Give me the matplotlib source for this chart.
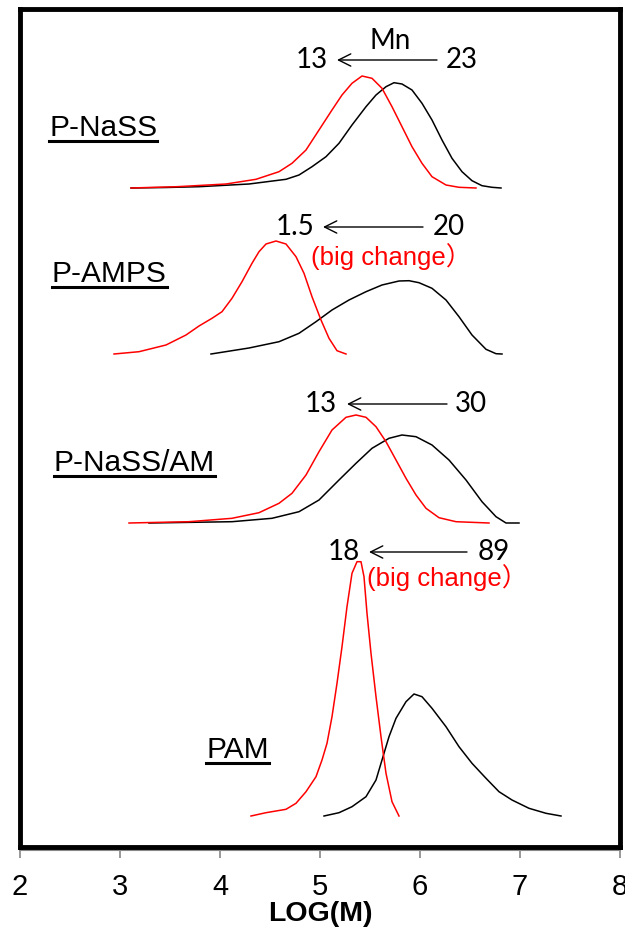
import matplotlib
matplotlib.use("Agg")
import matplotlib.pyplot as plt
from matplotlib.lines import Line2D

# ---------------- data ----------------
# x = log(M); y = curve height above its own baseline (arbitrary units)
nass_black_x = [3.11, 3.46, 3.79, 4.29, 4.66, 4.79, 4.92, 5.06, 5.19, 5.32, 5.46, 5.56, 5.66, 5.74,
                5.82, 5.92, 6.02, 6.12, 6.22, 6.32, 6.42, 6.52, 6.62, 6.72, 6.81]
nass_black_y = [0, 0.5, 1.3, 4, 8.7, 13, 21.3, 31.3, 44.7, 63, 81.3, 93, 101.3, 105.3,
                104, 98, 84.7, 68, 48, 29.7, 16.3, 7.3, 2.3, 0.7, 0]
nass_red_x = [3.11, 3.57, 4.06, 4.36, 4.59, 4.72, 4.86, 4.99, 5.12, 5.22, 5.32, 5.42, 5.52, 5.62,
              5.72, 5.82, 5.92, 6.02, 6.12, 6.26, 6.39, 6.56]
nass_red_y = [0, 1.3, 4, 8.7, 16.3, 24.7, 38, 58, 78, 93, 104.7, 112, 109.7, 99.7,
              81.3, 61.3, 41.3, 24.7, 11.3, 3, 0.7, 0]

amps_black_x = [3.91, 4.29, 4.59, 4.79, 4.96, 5.12, 5.29, 5.46, 5.62, 5.79, 5.89, 5.99, 6.12,
                6.26, 6.39, 6.52, 6.66, 6.76, 6.82]
amps_black_y = [0, 6, 12.3, 20.7, 32.3, 44, 54, 62.3, 69, 73, 73.3, 71.3, 65.7,
                54, 37.3, 19, 4.7, 0.3, 0]
amps_red_x = [2.94, 3.19, 3.46, 3.66, 3.79, 3.92, 4.02, 4.12, 4.22, 4.32, 4.39, 4.46, 4.56, 4.66,
              4.76, 4.84, 4.92, 5.01, 5.09, 5.17, 5.26]
amps_red_y = [0, 2.3, 9, 19, 28, 35.7, 42.3, 55.7, 72.3, 90.7, 102.3, 110, 113, 110,
              97.3, 80.7, 57.3, 34, 15.7, 3.3, 0]

nassam_black_x = [3.29, 4.12, 4.52, 4.79, 4.99, 5.19, 5.36, 5.52, 5.69, 5.82, 5.96, 6.12, 6.29,
                  6.46, 6.62, 6.76, 6.86, 6.99]
nassam_black_y = [0, 1.3, 4.7, 11.3, 23, 43, 59.7, 74.7, 84.7, 88, 86.3, 78, 63,
                  43, 21.3, 6.3, 0, 0]
nassam_red_x = [3.09, 3.69, 4.12, 4.39, 4.59, 4.72, 4.86, 4.99, 5.12, 5.26, 5.36, 5.46, 5.56,
                5.66, 5.76, 5.86, 5.96, 6.06, 6.19, 6.36, 6.69]
nassam_red_y = [0, 1.3, 4.7, 10.3, 19.7, 29.7, 48, 71.3, 93, 105.7, 108, 105.7, 96.3,
                81.3, 63, 44.7, 28, 14.7, 5.3, 1.3, 0]

pam_black_x = [5.04, 5.19, 5.32, 5.46, 5.56, 5.62, 5.69, 5.76, 5.86, 5.94, 6.02, 6.12, 6.26,
               6.39, 6.52, 6.66, 6.79, 6.92, 7.09, 7.26, 7.41]
pam_black_y = [0, 3.3, 9.3, 19.3, 36, 56, 79.3, 97.7, 114.3, 122, 119.3, 107.7, 89.3,
               69.3, 52.7, 37.7, 24.3, 16, 7.7, 2.7, 0]
pam_red_x = [4.31, 4.46, 4.66, 4.76, 4.86, 4.96, 5.02, 5.07, 5.12, 5.17, 5.22, 5.27, 5.32, 5.37,
             5.41, 5.44, 5.47, 5.51, 5.56, 5.61, 5.66, 5.72, 5.79]
pam_red_y = [0, 3.3, 6.7, 12.7, 24.3, 39.3, 56, 72.7, 99.3, 132.7, 169.3, 209.3, 242.7, 254.3,
             254.3, 239.3, 202.7, 162.7, 119.3, 79.3, 42.7, 14.3, 0]

samples = ["P-NaSS", "P-AMPS", "P-NaSS/AM", "PAM"]
baselines = [659, 493, 324, 31]
mn_before = ["23", "20", "30", "89"]
mn_after = ["13", "1.5", "13", "18"]
xticks = [2, 3, 4, 5, 6, 7, 8]

black_x = [nass_black_x, amps_black_x, nassam_black_x, pam_black_x]
black_y = [nass_black_y, amps_black_y, nassam_black_y, pam_black_y]
red_x = [nass_red_x, amps_red_x, nassam_red_x, pam_red_x]
red_y = [nass_red_y, amps_red_y, nassam_red_y, pam_red_y]

# ---------------- layout ----------------
W, H = 625, 936
fig = plt.figure(figsize=(W / 100, H / 100), dpi=100)
ax = fig.add_axes([20 / W, 1 - 847 / H, 600 / W, 838 / H])
ax.set_xlim(2, 8)
ax.set_ylim(0, 838)


def py(p):  # pixel row -> data y
    return 847 - p


def lx(p):  # pixel column -> data x
    return 2 + (p - 21) / 100.0


for i in range(4):
    b = baselines[i]
    ax.plot(black_x[i], [b + v for v in black_y[i]], color="black", lw=1.1,
            solid_joinstyle="round", zorder=2)
    ax.plot(red_x[i], [b + v for v in red_y[i]], color="red", lw=1.1,
            solid_joinstyle="round", zorder=3)

num_font = dict(family=["Lato", "DejaVu Sans"], fontsize=20, color="black")
lab_font = dict(family=["Liberation Sans", "DejaVu Sans"], fontsize=21.5, color="black")
red_font = dict(family=["Liberation Sans", "Noto Sans CJK SC"], fontsize=18.5, color="red")

ann = [
    # (y_arrow_px, tip_px, tail_px, after_px, before_px)
    (60, 338, 438, 313, 463),
    (227, 324, 424, 296, 450),
    (404, 348, 448, 322, 472),
    (552, 370, 468, 345, 495),
]

for i, (ya, tip, tail, pa, pb) in enumerate(ann):
    y = py(ya)
    ax.annotate("", xy=(lx(tip), y), xytext=(lx(tail), y),
                arrowprops=dict(arrowstyle="->", lw=1.0, color="black",
                                mutation_scale=22, shrinkA=0, shrinkB=0))
    ax.text(lx(pa), y, mn_after[i], ha="center", va="center", **num_font)
    ax.text(lx(pb), y, mn_before[i], ha="center", va="center", **num_font)

ax.text(lx(391), py(41), "Mn", ha="center", va="center", **num_font)
ax.text(lx(312), py(257), "(big change\uff09", ha="left", va="center", **red_font)
ax.text(lx(368), py(578), "(big change\uff09", ha="left", va="center", **red_font)

label_pos = [(50, 128), (53, 274), (55, 463), (207, 750)]
label_texts = []
for i, (px_, pyy) in enumerate(label_pos):
    t = ax.text(lx(px_), py(pyy), samples[i], ha="left", va="center", **lab_font)
    label_texts.append(t)

# axes styling
for s in ax.spines.values():
    s.set_color("black")
    s.set_linewidth(3.5)
ax.set_yticks([])
ax.set_xticks(xticks)
ax.set_xticklabels([str(v) for v in xticks], fontfamily="Liberation Sans", fontsize=21)
ax.tick_params(axis="x", direction="out", length=8, width=1.2, color="#888888", pad=11)
ax.set_xlabel("LOG(M)", fontfamily="Liberation Sans", fontsize=20.5,
              fontweight="bold", labelpad=0)
# grey axis line just under the frame
ax.plot([2, 8], [-3, -3], color="#888888", lw=1.5, clip_on=False, zorder=1)

# underline the sample labels
fig.canvas.draw()
r = fig.canvas.get_renderer()
inv = fig.transFigure.inverted()
for t in label_texts:
    bb = t.get_window_extent(renderer=r)
    (x0, y0), (x1, _) = inv.transform([(bb.x0, bb.y0), (bb.x1, bb.y0)])
    yline = y0 + 1.0 / H
    fig.add_artist(Line2D([x0, x1], [yline, yline], transform=fig.transFigure,
                          color="black", lw=2.2))

fig.savefig("out.png", dpi=100)
